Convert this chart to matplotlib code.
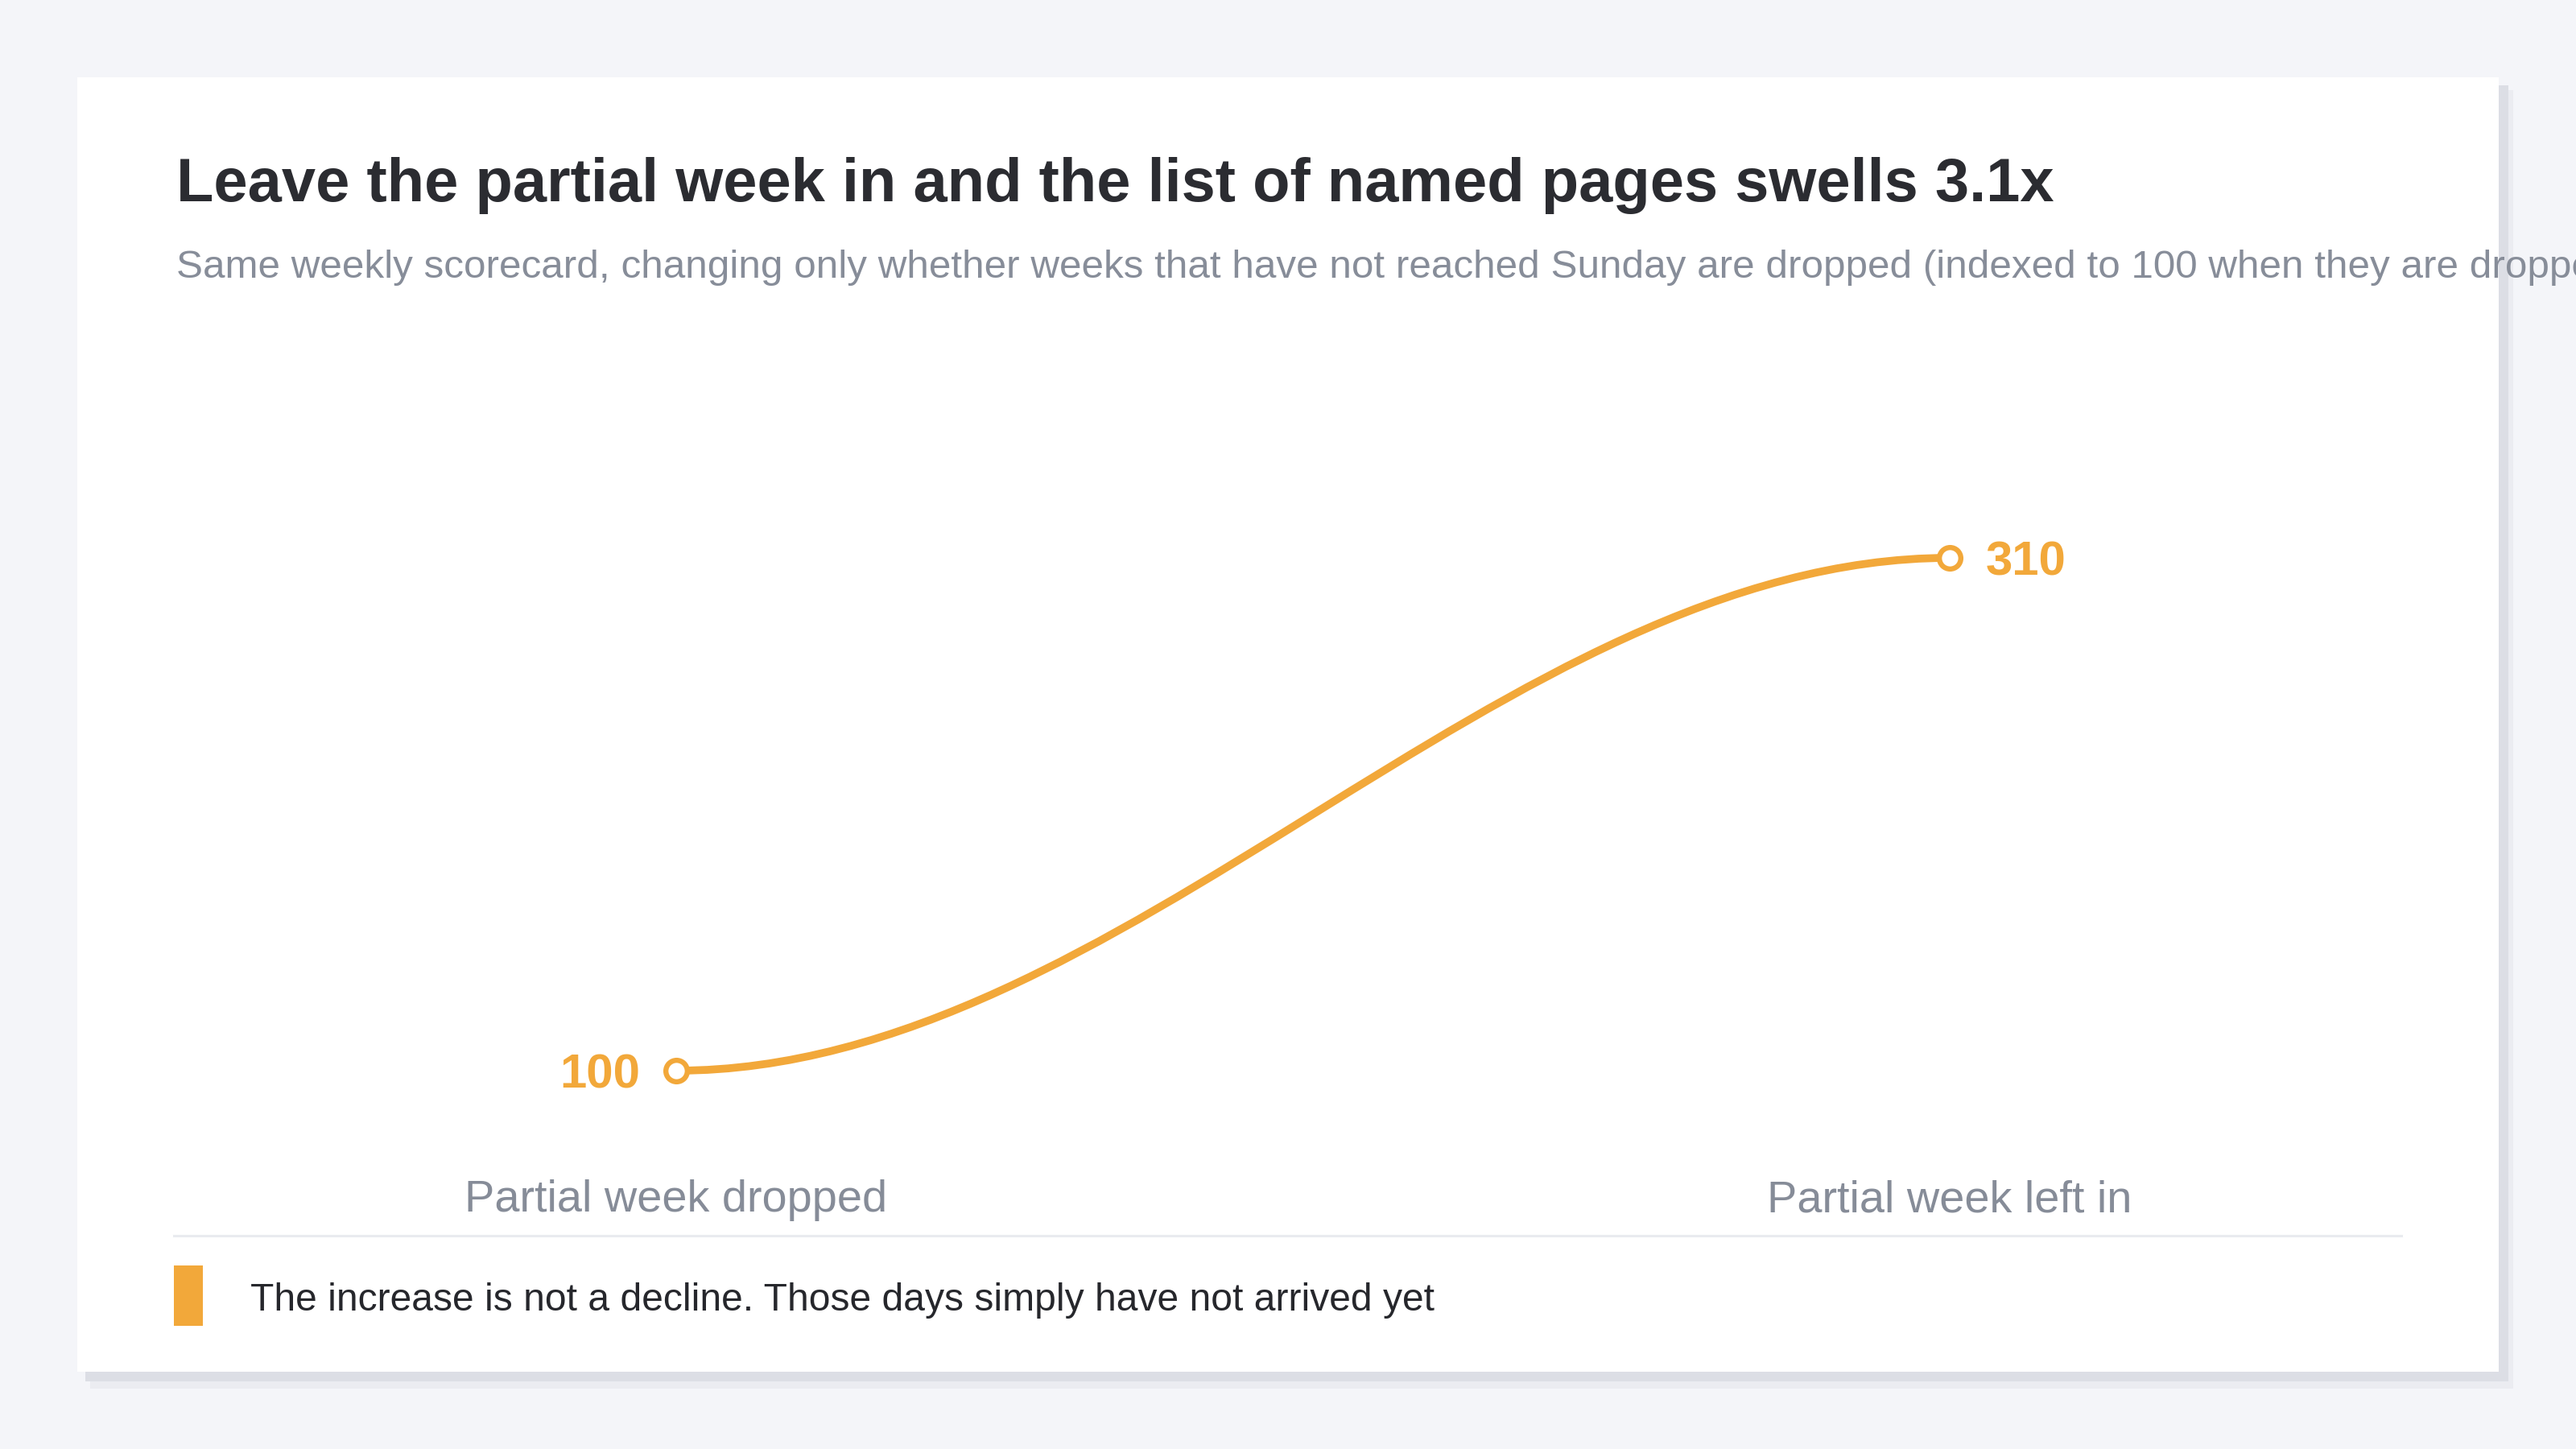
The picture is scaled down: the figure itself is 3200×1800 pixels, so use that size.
import matplotlib
matplotlib.use("Agg")
import matplotlib.pyplot as plt
import matplotlib.transforms as mtransforms
from matplotlib.patches import Rectangle, PathPatch
from matplotlib.path import Path

plt.rcParams['font.family'] = ['Liberation Sans', 'DejaVu Sans']

# data
categories = ["Partial week dropped", "Partial week left in"]
values = [100, 310]
labels = ["100", "310"]

title = "Leave the partial week in and the list of named pages swells 3.1x"
subtitle = ("Same weekly scorecard, changing only whether weeks that have not reached "
            "Sunday are dropped (indexed to 100 when they are dropped)")
note = "The increase is not a decline. Those days simply have not arrived yet"

ORANGE = "#f2a83a"
W, H = 3200, 1800

fig = plt.figure(figsize=(16, 9), dpi=200)
fig.patch.set_facecolor("#f4f5f9")

# background layer in pixel coordinates (top-down)
bg = fig.add_axes([0, 0, 1, 1])
bg.set_xlim(0, W)
bg.set_ylim(H, 0)
bg.axis("off")

# card with soft shadow
bg.add_patch(Rectangle((112, 112), 3010, 1613, color="#ebecf1", lw=0, zorder=1))
bg.add_patch(Rectangle((106, 106), 3010, 1610, color="#dcdee5", lw=0, zorder=2))
bg.add_patch(Rectangle((96, 96), 3008, 1608, color="white", lw=0, zorder=3))

bg.text(219, 250, title, fontsize=27.3, fontweight="bold", color="#2b2c31",
        ha="left", va="baseline", zorder=10)
bg.text(219, 345, subtitle, fontsize=17.8, color="#878d99",
        ha="left", va="baseline", zorder=10)

# separator + note
bg.plot([216, 2983], [1535, 1535], color="#e9ebef", lw=1.1, zorder=5)
bg.add_patch(Rectangle((216, 1572), 36, 75, color=ORANGE, lw=0, zorder=5))
bg.text(311, 1628, note, fontsize=17.3, color="#26272c",
        ha="left", va="baseline", zorder=10)

# chart axes: place so that categories and values land where the reference has them
ax_l, ax_r, ax_t, ax_b = 216, 2983, 400, 1420
ax = fig.add_axes([ax_l / W, 1 - ax_b / H, (ax_r - ax_l) / W, (ax_b - ax_t) / H])
ax.patch.set_alpha(0)
ax.axis("off")
ax.set_zorder(4)

x_px = [840, 2422]
y_px = [1330, 693]
ppx = (x_px[1] - x_px[0]) / 1.0
ax.set_xlim(-(x_px[0] - ax_l) / ppx, 1 + (ax_r - x_px[1]) / ppx)
ppy = (y_px[0] - y_px[1]) / (values[1] - values[0])
ax.set_ylim(values[0] - (ax_b - y_px[0]) / ppy, values[1] + (y_px[1] - ax_t) / ppy)

xs = list(range(len(categories)))

# smooth S-shaped connector between the two points
a = 0.35
dx = xs[1] - xs[0]
verts = [(xs[0], values[0]), (xs[0] + a * dx, values[0]),
         (xs[1] - a * dx, values[1]), (xs[1], values[1])]
path = Path(verts, [Path.MOVETO, Path.CURVE4, Path.CURVE4, Path.CURVE4])
ax.add_patch(PathPatch(path, fill=False, edgecolor=ORANGE, lw=3.5,
                       capstyle="round", zorder=3))

ax.plot(xs, values, linestyle="none", marker="o", markersize=9.6,
        markerfacecolor="white", markeredgecolor=ORANGE, markeredgewidth=2.3,
        zorder=4, clip_on=False)

# value labels
ax.annotate(labels[0], (xs[0], values[0]), xytext=(-16, -2), textcoords="offset points",
            ha="right", va="center", fontsize=21.6, fontweight="bold", color=ORANGE)
ax.annotate(labels[1], (xs[1], values[1]), xytext=(16, -2), textcoords="offset points",
            ha="left", va="center", fontsize=21.6, fontweight="bold", color=ORANGE)

# category labels under each point
trans = mtransforms.blended_transform_factory(ax.transData, bg.transData)
for x, cat in zip(xs, categories):
    ax.text(x, 1505, cat, transform=trans, ha="center", va="baseline",
            fontsize=20.1, color="#868c98", clip_on=False)

fig.savefig("out.png", dpi=200, facecolor=fig.get_facecolor())
